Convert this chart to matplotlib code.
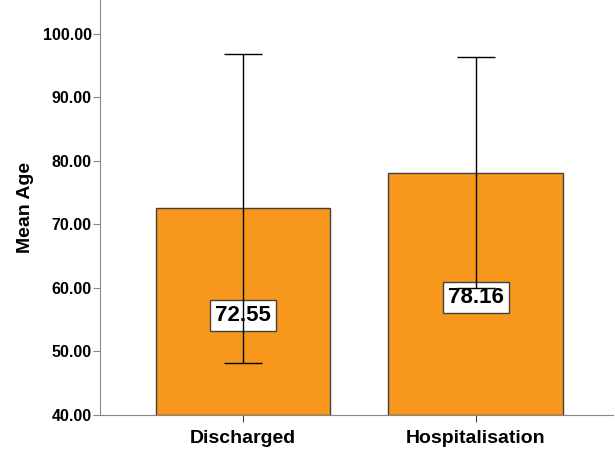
import matplotlib.pyplot as plt

# chart data
groups = ["Discharged", "Hospitalisation"]
mean_age = [72.55, 78.16]
sd_age = [24.30, 18.20]
value_labels = ["72.55", "78.16"]

plt.rcParams['font.family'] = ['Liberation Sans', 'DejaVu Sans']

fig = plt.figure(figsize=(6.15, 4.61), dpi=100)
ax = fig.add_axes([100 / 615, 46 / 461, 513 / 615, 415 / 461])

ymin = 40
pos = list(range(len(groups)))
heights = [m - ymin for m in mean_age]
ax.bar(pos, heights, bottom=ymin, width=0.75, color="#F7981D",
       edgecolor="#404040", linewidth=1, zorder=2)

# value labels near the middle of each bar
for i, m in enumerate(mean_age):
    ax.text(i, (ymin + m) / 2 - 0.6, value_labels[i], ha="center", va="center",
            fontsize=16, fontweight="bold", zorder=3,
            bbox=dict(boxstyle="square,pad=0.22", fc="white", ec="#404040", lw=1))

# error bars on top of the labels
ax.errorbar(pos, mean_age, yerr=sd_age, fmt="none", ecolor="black",
            elinewidth=1, capsize=14, capthick=1, zorder=4)

ax.set_ylim(ymin, 105.35)
ax.set_xlim(-0.615, 1.59)
ax.set_yticks([40, 50, 60, 70, 80, 90, 100])
ax.set_yticklabels(["%.2f" % v for v in [40, 50, 60, 70, 80, 90, 100]])
ax.set_xticks(pos)
ax.set_xticklabels(groups)

for lab in ax.get_yticklabels():
    lab.set_fontsize(11.5)
    lab.set_fontweight("bold")
for lab in ax.get_xticklabels():
    lab.set_fontsize(14)
    lab.set_fontweight("bold")

ax.set_ylabel("Mean Age", fontsize=14, fontweight="bold", labelpad=6)

ax.spines["top"].set_visible(False)
ax.spines["right"].set_visible(False)
ax.spines["left"].set_color("#888888")
ax.spines["bottom"].set_color("#888888")
ax.tick_params(axis="y", colors="#888888", labelcolor="black", length=5, pad=1)
ax.tick_params(axis="x", colors="#404040", labelcolor="black", length=5, pad=6)

fig.savefig("out.png", dpi=100)
